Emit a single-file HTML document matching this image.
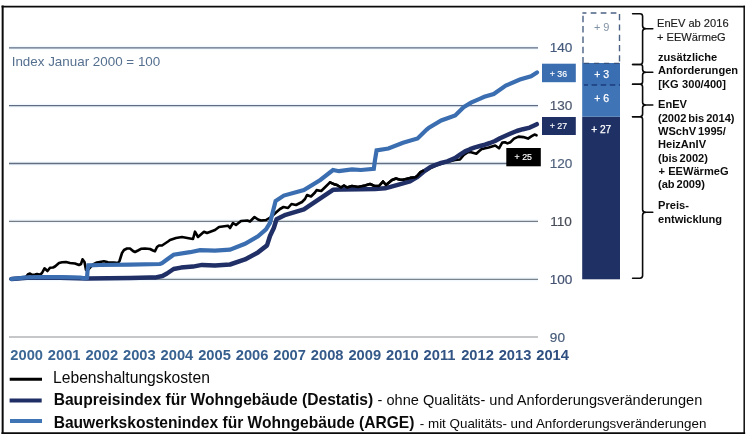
<!DOCTYPE html>
<html lang="de">
<head>
<meta charset="utf-8">
<title>Baupreisindex und Bauwerkskostenindex für Wohngebäude</title>
<style>
html,body{margin:0;padding:0;background:#fff;}
body{width:750px;height:438px;overflow:hidden;position:relative;font-family:"Liberation Sans",Arial,Helvetica,sans-serif;}
svg{position:absolute;left:0;top:0;display:block;filter:blur(0.35px);}
text{font-family:"Liberation Sans",Arial,Helvetica,sans-serif;}
.ax{font-size:13.6px;fill:#4d6382;stroke:#4d6382;stroke-width:0.2px;}
.yr{font-size:14.7px;font-weight:bold;}
.nt{font-size:11.1px;fill:#1a1a1a;stroke:#1a1a1a;stroke-width:0.15px;}
.nb{font-size:11.1px;font-weight:bold;fill:#0c0c0c;word-spacing:-1.2px;}
.bd{font-size:8.8px;fill:#fff;stroke:#fff;stroke-width:0.15px;}
.br{font-size:10.5px;fill:#fff;stroke:#fff;stroke-width:0.25px;}
.lg{font-size:15.5px;fill:#0a0a0a;}
</style>
</head>
<body>
<svg width="750" height="438" viewBox="0 0 750 438">
<rect x="0" y="0" width="750" height="438" fill="#ffffff"/>
<!-- frame -->
<g stroke="#0a0a0a" fill="none" stroke-linecap="square">
<line x1="2.65" y1="6.4" x2="2.65" y2="433.1" stroke-width="2"/>
<line x1="2.45" y1="6.6" x2="744.2" y2="6.6" stroke-width="1.7"/>
<line x1="744.2" y1="6.4" x2="744.2" y2="433.1" stroke-width="1.5"/>
<line x1="2.45" y1="433.1" x2="744.2" y2="433.1" stroke-width="1.9"/>
</g>
<!-- gridlines -->
<g fill="none" stroke="#f1f8fe" stroke-width="4">
<line x1="9" y1="47.8" x2="538" y2="47.8"/>
<line x1="9" y1="105.7" x2="538" y2="105.7"/>
<line x1="9" y1="163.5" x2="538" y2="163.5"/>
<line x1="9" y1="221.3" x2="538" y2="221.3"/>
<line x1="9" y1="279.3" x2="538" y2="279.3"/>
</g>
<g fill="none">
<line x1="9" y1="47.8" x2="538" y2="47.8" stroke="#5f6d82" stroke-width="1.3"/>
<line x1="9" y1="105.7" x2="538" y2="105.7" stroke="#5f6c84" stroke-width="1.3"/>
<line x1="9" y1="163.5" x2="538" y2="163.5" stroke="#626e82" stroke-width="1.3"/>
<line x1="9" y1="221.3" x2="538" y2="221.3" stroke="#777b84" stroke-width="1.25"/>
<line x1="9" y1="279.3" x2="538" y2="279.3" stroke="#7a848c" stroke-width="1.25"/>
<line x1="9" y1="337" x2="538" y2="337" stroke="#8e9093" stroke-width="1.15"/>
</g>
<text x="11.7" y="65.8" style="font-size:13.4px;fill:#55708f;">Index Januar 2000 = 100</text>
<!-- axis labels -->
<g class="ax" text-anchor="middle">
<text x="561" y="52.4" style="fill:#445a7c;stroke:#445a7c">140</text>
<text x="561" y="110.4" style="fill:#4d586e;stroke:#4d586e">130</text>
<text x="561" y="168" style="fill:#50627e;stroke:#50627e">120</text>
<text x="561" y="226.2" style="fill:#484d58;stroke:#484d58">110</text>
<text x="561" y="284" style="fill:#435272;stroke:#435272">100</text>
<text x="557.4" y="341.8" style="fill:#475c7a;stroke:#475c7a">90</text>
</g>
<!-- series -->
<g fill="none" stroke-linejoin="round" stroke-linecap="round">
<polyline id="black" stroke="#000" stroke-width="2.6" points="10.8,279 22,278.6 26,277 28,274.2 30,273.6 32,274.8 35,274.5 37,274 40,274.8 42,273 44.5,268.3 47.5,271 50,267.8 53,267.5 55,266.5 59,263 62,262.3 66,262 70,263 75,263.5 79,265 81,264 82.5,259.3 84.5,262 86,270 88,270 93,264.5 97,262.5 104,261.3 108,262.3 114,262.5 118,263 119.5,261 122,253 124,250 127,248.5 130,248.5 133,251 135,252 138,250.5 141,248.8 145,248.5 150,249 153,250.5 155,251.3 157,247 159,245.5 162,245.5 165,243.5 168,241.5 170,240 176,238 182,237 190,238.5 193,239 195,231.7 198,237 204,231.7 207,233 215,230 219,227 228,225.7 230,228 233,223 236,225 241,221 247.3,220.5 250,221.5 254.5,217 258,219.5 261,220.5 266,220 271,217 276,212.5 280,209 283.5,207 288,208 291.5,204 296,205 302,202 305,199 307,195 311,196.5 315,192.5 316.6,190.1 321.2,191 325.8,186.5 330,182.3 334,184.2 337,185 341,187.5 344,185.5 347,187.5 352,186 358,187 365,185.5 370,184 374,185.7 379,186 383,181.5 386,185 392,180 396,178.5 400,179.7 403,179.7 410.3,177.9 415.8,177.2 418,175.2 420.5,172.2 423,170.8 426,170.6 430,168.4 436,165.5 445,162.5 455,160 460,159.5 463.8,155 468.3,152 471,152.3 476.3,153.7 479,151.2 481.7,148.9 484,148.6 488.7,147.5 495.2,145.5 499,148.3 502.2,142.6 505,142.3 507.4,143.4 510.5,142.2 514,138.6 518.6,136.6 523.3,137.1 528,138.6 531.7,136.2 534.5,134.6 536.5,135.3"/>
<polyline id="navy" stroke="#202f66" stroke-width="4.5" points="11.6,279 30,277.5 60,277.8 87,278.4 130,278 150,277.6 156,277.4 162.4,276 167,273.5 173.6,269 181,267.6 193,266.6 202,264.9 215,265.5 230,264.5 245,259.4 258,252.4 267,245.4 270,236 273.8,228 276.5,219.3 285.6,214.8 303.9,209.3 320.3,198.4 333,189.8 341,189.6 360,189.3 375,189 385,188.3 395,185.6 403,183.4 410,181.4 416.7,177.4 423.3,171.9 430,167.3 435,165.1 440,163.3 447.4,161.4 455,158 460,154.6 465,151.4 470,149.2 475,147.4 480,146 485,144.7 490,143 495,141 500,138.3 505,136 510,133.8 516.7,131 523,129.2 529.8,127.6 536.8,124.2"/>
<polyline id="black2" stroke="#000" stroke-width="2.6" points="330,182.3 334,184.2 337,185 341,187.5 344,185.5 347,187.5 352,186 358,187 365,185.5 370,184 374,185.7 379,186 383,181.5 386,185 392,180 396,178.5 400,179.7 403,179.7 410.3,177.9 415.8,177.2 418,175.2 420.5,172.2 423,170.8"/>
<polyline id="blue" stroke-linejoin="miter" stroke-miterlimit="3" stroke="#3b6eb0" stroke-width="4.2" points="11.5,279 25,277.5 40,277 60,277.2 80,277.5 85,278.4 87,277.8 87.6,270 88.4,265.4 100,265 130,264.6 160,264 162,263.2 167,259.5 173.6,254.7 190,252.2 200,250.2 215,250.6 230,249.6 245,243.8 258,236.3 266,229.3 270,223 275.6,201 283.8,195.6 303.9,190 320.3,180 333,170 339,171.2 352,169.3 361,170 373.8,168.8 375,160 376.6,150.4 388.4,148.5 403,142.7 417.6,138.5 426.7,129.6 429,127.6 441.2,120.5 455.2,115.4 463.6,107.2 471,102.6 480.2,98.6 484.3,96.8 493.7,94 505.8,85.6 519.9,79.5 531,76.2 537,72.4"/>
</g>
<!-- badges -->
<rect x="542" y="63.7" width="33.8" height="18.5" fill="#3a6eb0"/>
<text class="bd" x="558.4" y="76.6" text-anchor="middle">+ 36</text>
<rect x="542" y="117" width="33.8" height="18" fill="#1f3064"/>
<text class="bd" x="558.4" y="128.8" text-anchor="middle">+ 27</text>
<rect x="506.3" y="148" width="34.5" height="18.3" fill="#000"/>
<text class="bd" x="523.3" y="160" text-anchor="middle">+ 25</text>
<!-- stacked bar -->
<rect x="582.2" y="116.7" width="37.8" height="162.6" fill="#1f3064"/>
<rect x="582.2" y="85" width="37.8" height="31.7" fill="#3f74b6"/>
<rect x="582.2" y="63" width="37.8" height="22" fill="#3a6eb2"/>
<line x1="584" y1="85" x2="620" y2="85" stroke="#1c3c7c" stroke-width="1.5" stroke-dasharray="5.5 3.6" stroke-dashoffset="1.5"/>
<g fill="none" stroke="#4a6184" stroke-width="1.4">
<line x1="582.4" y1="13" x2="620" y2="13" stroke-dasharray="5.7 4.3" stroke-dashoffset="1.7"/>
<line x1="583" y1="15.8" x2="583" y2="63" stroke-dasharray="6.5 3.8"/>
<line x1="619.5" y1="14.1" x2="619.5" y2="63" stroke-dasharray="6.2 4.1"/>
</g>
<line x1="584" y1="63.4" x2="620" y2="63.4" stroke="#34507c" stroke-width="1.4" stroke-dasharray="5.2 4.8"/>
<text x="601.7" y="30.5" text-anchor="middle" style="font-size:11px;fill:#8292a6;">+ 9</text>
<text class="br" x="601.7" y="78" text-anchor="middle">+ 3</text>
<text class="br" x="601.7" y="101.7" text-anchor="middle">+ 6</text>
<text class="br" x="601.2" y="133.2" text-anchor="middle" style="font-size:10.2px">+ 27</text>
<!-- braces -->
<g fill="none" stroke="#0a0a0a" stroke-width="1.6" stroke-linejoin="round" stroke-linecap="round">
<path d="M632.6,13.7 H640.0 Q642.6,13.7 642.6,16.3 V26.1 Q642.6,28.7 646.1,28.7 H652.8 H646.1 Q642.6,28.7 642.6,31.3 V61.5 Q642.6,64.5 640.0,64.5 H632.6"/>
<path d="M632.6,64.5 H640.0 Q642.6,64.5 642.6,66.7 V69.4 Q642.6,72.2 646.1,72.2 H652.8 H646.1 Q642.6,72.2 642.6,74.8 V81.7 Q642.6,84.3 640.0,84.3 H632.6"/>
<path d="M632.6,84.3 H640.0 Q642.6,84.3 642.6,86.9 V102.4 Q642.6,105 646.1,105 H652.8 H646.1 Q642.6,105 642.6,107.6 V114.1 Q642.6,116.7 640.0,116.7 H632.6"/>
<path d="M632.6,116.7 H640.0 Q642.6,116.7 642.6,119.3 V209.7 Q642.6,212.3 646.1,212.3 H652.8 H646.1 Q642.6,212.3 642.6,214.9 V275.6 Q642.6,278.2 640.0,278.2 H632.6"/>
</g>
<!-- right notes -->
<text class="nt" x="657" y="27">EnEV ab 2016</text>
<text class="nt" x="657" y="40.5">+ EEWärmeG</text>
<text class="nb" x="658" y="60.8">zusätzliche</text>
<text class="nb" x="658" y="74.3">Anforderungen</text>
<text class="nb" x="658.3" y="88.2" style="word-spacing:0.4px">[KG 300/400]</text>
<text class="nb" x="658" y="108.3">EnEV</text>
<text class="nb" x="658" y="121.5">(2002 bis 2014)</text>
<text class="nb" x="658" y="135">WSchV 1995/</text>
<text class="nb" x="658" y="148.3">HeizAnIV</text>
<text class="nb" x="658" y="161.7">(bis 2002)</text>
<text class="nb" x="658.6" y="175" style="word-spacing:0">+ EEWärmeG</text>
<text class="nb" x="658" y="188.3">(ab 2009)</text>
<text class="nb" x="658" y="209.3">Preis-</text>
<text class="nb" x="658" y="222.8">entwicklung</text>
<!-- years -->
<g class="yr">
<text x="10.30" y="360.1" fill="#3c6896">2000</text>
<text x="47.87" y="360.1" fill="#3b6694">2001</text>
<text x="85.44" y="360.1" fill="#3a6493">2002</text>
<text x="123.01" y="360.1" fill="#396391">2003</text>
<text x="160.58" y="360.1" fill="#386190">2004</text>
<text x="198.15" y="360.1" fill="#375f8e">2005</text>
<text x="235.72" y="360.1" fill="#365d8d">2006</text>
<text x="273.29" y="360.1" fill="#365c8b">2007</text>
<text x="310.86" y="360.1" fill="#355a89">2008</text>
<text x="348.43" y="360.1" fill="#345888">2009</text>
<text x="386.00" y="360.1" fill="#335686">2010</text>
<text x="423.57" y="360.1" fill="#325485">2011</text>
<text x="461.14" y="360.1" fill="#315383">2012</text>
<text x="498.71" y="360.1" fill="#305182">2013</text>
<text x="536.28" y="360.1" fill="#2f4f80">2014</text>
</g>
<!-- legend -->
<line x1="9.7" y1="379.2" x2="42" y2="379.2" stroke="#000" stroke-width="3"/>
<line x1="9.6" y1="400.4" x2="41.7" y2="400.4" stroke="#1f2f66" stroke-width="4"/>
<line x1="10" y1="421" x2="42" y2="421" stroke="#3f74b5" stroke-width="4"/>
<text class="lg" x="53" y="383.1" style="font-size:15.68px">Lebenshaltungskosten</text>
<text class="lg" x="53.7" y="405.3" style="font-size:15.6px"><tspan font-weight="bold">Baupreisindex für Wohngebäude (Destatis)</tspan><tspan x="377.6" style="font-size:14.57px">- ohne Qualitäts- und Anforderungsveränderungen</tspan></text>
<text class="lg" x="53.7" y="427.5" style="font-size:15.58px"><tspan font-weight="bold">Bauwerkskostenindex für Wohngebäude (ARGE)</tspan><tspan x="419.8" style="font-size:13.4px">- mit Qualitäts- und Anforderungsveränderungen</tspan></text>
</svg>
</body>
</html>
